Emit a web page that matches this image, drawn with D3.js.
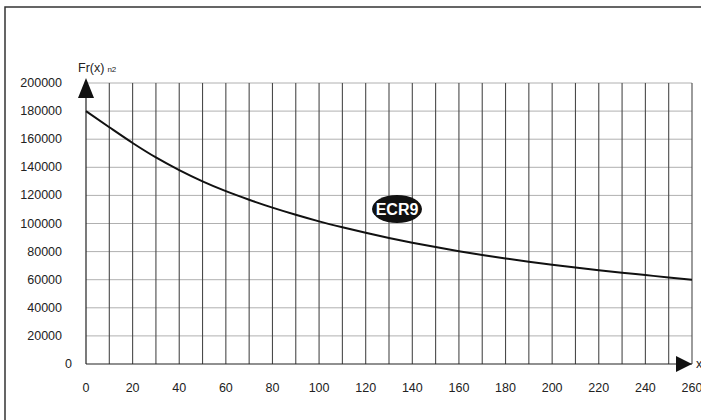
<!DOCTYPE html>
<html><head><meta charset="utf-8">
<script src="https://cdn.jsdelivr.net/npm/d3@7"></script>
<style>body{margin:0;background:#fff}svg{display:block;font-family:Arial,"Liberation Sans",sans-serif}</style>
</head><body><svg id="c" width="701" height="420"></svg>
<script>
const xValues = [0,10,20,30,40,50,60,70,80,90,100,110,120,130,140,150,160,170,180,190,200,210,220,230,240,250,260];
const forceValues = [180000,168500,157300,147000,138000,130000,123000,116900,111300,106200,101500,97300,93400,89700,86300,83200,80300,77600,75100,72800,70700,68700,66800,65000,63300,61600,60000];
const xTicks = [0,20,40,60,80,100,120,140,160,180,200,220,240,260];
const yTicks = [0,20000,40000,60000,80000,100000,120000,140000,160000,180000,200000];
const xGrid = d3.range(0,261,10);
const badgeLabel = "ECR9";

const svg = d3.select("#c");
const x = d3.scaleLinear().domain([0,260]).range([86,692]);
const y = d3.scaleLinear().domain([0,200000]).range([364,83]);

// frame
svg.append("rect").attr("x",5).attr("y",7).attr("width",760).attr("height",460)
  .attr("fill","none").attr("stroke","#333").attr("stroke-width",1.5);

// horizontal grid
svg.append("g").selectAll("line").data(yTicks.filter(d=>d>0)).join("line")
  .attr("x1",x(0)).attr("x2",x(260)).attr("y1",d=>y(d)).attr("y2",d=>y(d))
  .attr("stroke","#b0b0b0").attr("stroke-width",1);
// vertical grid
svg.append("g").selectAll("line").data(xGrid.filter(d=>d>0)).join("line")
  .attr("x1",d=>x(d)).attr("x2",d=>x(d)).attr("y1",y(200000)).attr("y2",y(0))
  .attr("stroke","#4a4a4a").attr("stroke-width",1.1);

// axes
svg.append("line").attr("x1",x(0)).attr("x2",x(0)).attr("y1",y(200000)).attr("y2",y(0)).attr("stroke","#222").attr("stroke-width",1.2);
svg.append("line").attr("x1",x(0)).attr("x2",x(260)).attr("y1",y(0)).attr("y2",y(0)).attr("stroke","#222").attr("stroke-width",1.2);
// arrows
svg.append("path").attr("d",`M${x(0)},${y(200000)-5} L${x(0)-8},${y(200000)+15} L${x(0)+8},${y(200000)+15} Z`).attr("fill","#111");
svg.append("path").attr("d",`M${x(260)},${y(0)} L${x(260)-16},${y(0)-8} L${x(260)-16},${y(0)+8} Z`).attr("fill","#111");

// tick labels
svg.append("g").selectAll("text").data(yTicks).join("text")
  .attr("x",d=>d===0?72:62).attr("y",d=>y(d)+4).attr("text-anchor","end")
  .attr("font-size",12.5).attr("fill","#222").text(d=>d);
svg.append("g").selectAll("text").data(xTicks).join("text")
  .attr("x",d=>x(d)).attr("y",392).attr("text-anchor","middle")
  .attr("font-size",12.5).attr("fill","#222").text(d=>d);

// axis titles
const t = svg.append("text").attr("x",78).attr("y",72).attr("font-size",12.5).attr("fill","#222");
t.append("tspan").text("Fr(x)");
t.append("tspan").attr("font-size",8).attr("dx",3).text("n2");
svg.append("text").attr("x",696).attr("y",368).attr("font-size",12.5).attr("fill","#222").text("x");

// curve
svg.append("path").datum(xValues.map((v,i)=>[v,forceValues[i]]))
  .attr("d",d3.line().x(d=>x(d[0])).y(d=>y(d[1])).curve(d3.curveMonotoneX))
  .attr("fill","none").attr("stroke","#111").attr("stroke-width",2);

// badge
svg.append("ellipse").attr("cx",397).attr("cy",209).attr("rx",25).attr("ry",14).attr("fill","#111");
svg.append("text").attr("x",397).attr("y",215).attr("text-anchor","middle").attr("font-size",16)
  .attr("font-weight","bold").attr("fill","#fff").text(badgeLabel);
</script></body></html>
